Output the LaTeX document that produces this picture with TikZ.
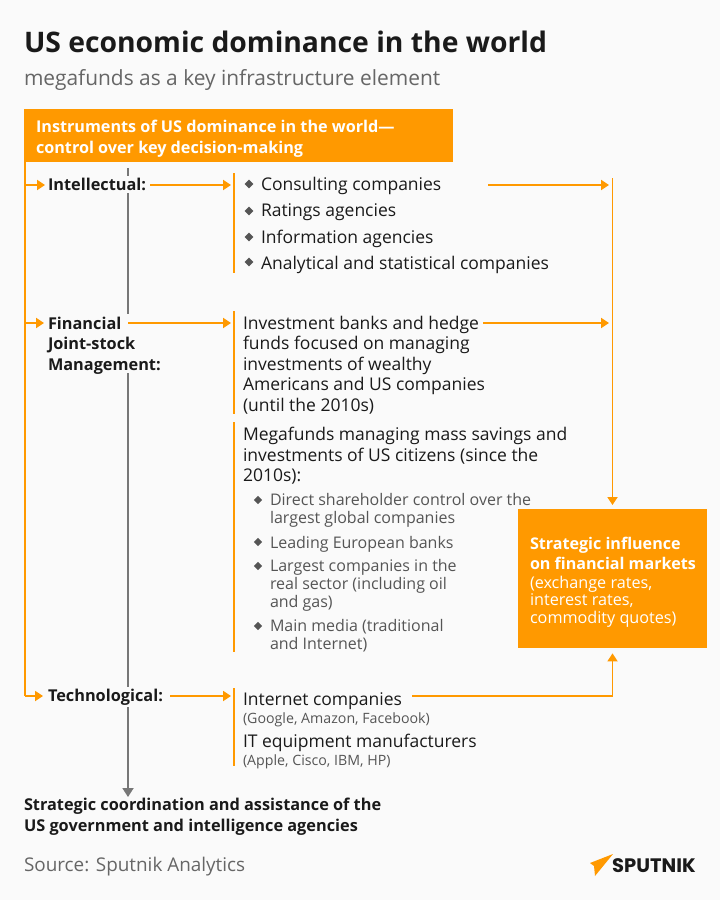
\documentclass[tikz,border=0pt]{standalone}
\usepackage{fontspec}
\setmainfont{Open Sans}
\usetikzlibrary{arrows.meta,shapes.geometric}
\definecolor{org}{HTML}{FF9900}
\definecolor{bg}{HTML}{FAFAFA}
\definecolor{ink}{HTML}{1A1A1A}
\definecolor{sub}{HTML}{666666}
\definecolor{midg}{HTML}{555555}
\definecolor{lineg}{HTML}{777777}
\newcommand{\fs}[2]{\fontsize{#1}{#2}\selectfont}
\tikzset{
 txt/.style={anchor=north west,inner sep=0pt,outer sep=0pt,align=left,text=ink,execute at begin node=\strut},
 lbl/.style={txt,anchor=west},
 oline/.style={draw=org,line width=1.8pt},
 arr/.style={draw=org,line width=1.8pt,-{Triangle[length=8pt,width=10pt]}},
 garr/.style={draw=lineg,line width=1.8pt},
 bar/.style={draw=org,line width=2pt},
 dia/.style={diamond,fill=midg,inner sep=0pt,minimum width=9pt,minimum height=9pt},
 diab/.style={dia,minimum width=8.5pt,minimum height=8.5pt},
 box/.style={fill=org,draw=none,inner sep=0pt,anchor=north west},
 ftitle/.style={font=\bfseries\fs{28.3}{37}},
 fsubt/.style={font=\fs{20.9}{25}},
 ftop/.style={font=\bfseries\fs{16.2}{21}},
 fbold/.style={font=\bfseries\fs{16.3}{20.5}},
 fmain/.style={font=\fs{17.5}{20.5}},
 fsmall/.style={font=\fs{16}{18}},
 ftiny/.style={font=\fs{14.2}{14}},
 frb/.style={font=\bfseries\fs{16.1}{20}},
 frr/.style={font=\fs{16.2}{17.5}},
 fsrc/.style={font=\fs{18.9}{23}},
}
\begin{document}
\begin{tikzpicture}[x=1pt,y=-1pt]
\useasboundingbox[fill=bg] (0,0) rectangle (720,900);
% title
\node[txt,ftitle] (title) at (24,27) {US economic dominance in the world};
\node[txt,text=sub,fsubt] (subtitle) at (24,68) {megafunds as a key infrastructure element};
% boxes
\node[box,minimum width=429pt,minimum height=53pt] (topbox) at (24,109) {};
\node[txt,text=white,ftop] (toptext) at (36,120.5) {Instruments of US dominance in the world—\\control over key decision-making};
\node[box,minimum width=189pt,minimum height=139pt] (rbox) at (518,509) {};
\node[txt,text=white,frb] (rtext) at (530,537) {Strategic influence\\on financial markets};
\node[txt,text=white,frr] (rtextb) at (530,576) {(exchange rates,\\interest rates,\\commodity quotes)};
% left labels
\node[lbl,fbold] (intel) at (48,186) {Intellectual:};
\node[txt,fbold] (fin) at (48,317) {Financial\\Joint-stock\\Management:};
\node[lbl,fbold] (tech) at (48,697) {Technological:};
% list 1
\foreach \n/\y/\t in {a/190/Consulting companies,b/216/Ratings agencies,c/243/Information agencies,d/269/Analytical and statistical companies}{
 \node[txt,fmain] (l\n) at (261,\y-14) {\t};
}
\foreach \n/\y in {a/184,b/211,c/237,d/262}{\node[dia] (da\n) at (249,\y) {};}
% middle texts
\node[txt,fmain] (inv) at (243,316) {Investment banks and hedge\\funds focused on managing\\investments of wealthy\\Americans and US companies\\(until the 2010s)};
\node[txt,fmain] (mega) at (243,427.5) {Megafunds managing mass savings and\\investments of US citizens (since the\\2010s):};
\node[txt,text=midg,fsmall] (s1) at (270,493.5) {Direct shareholder control over the\\largest global companies};
\node[txt,text=midg,fsmall] (s2) at (270,535.5) {Leading European banks};
\node[txt,text=midg,fsmall] (s3) at (270,559.5) {Largest companies in the\\real sector (including oil\\and gas)};
\node[txt,text=midg,fsmall] (s4) at (270,619.5) {Main media (traditional\\and Internet)};
\foreach \n/\y in {a/500,b/542,c/566,d/626}{\node[diab] (db\n) at (258,\y) {};}
\node[txt,fmain] (net) at (243,691) {Internet companies};
\node[txt,text=midg,ftiny] (netb) at (243,713) {(Google, Amazon, Facebook)};
\node[txt,fmain] (it) at (243,733) {IT equipment manufacturers};
\node[txt,text=midg,ftiny] (itb) at (243,755) {(Apple, Cisco, IBM, HP)};
% bottom
\node[txt,fbold] (coord) at (24,798.5) {Strategic coordination and assistance of the\\US government and intelligence agencies};
\node[txt,text=sub,fsrc] (src) at (24,855) {Source: Sputnik Analytics};
% coordinates
\coordinate (lt) at (25,162); \coordinate (lb) at (25,696);
\coordinate (rtop) at (612.5,178);
\coordinate (bar1t) at (233.5,173); \coordinate (bar1b) at (233.5,273);
\coordinate (bar2t) at (233.5,311); \coordinate (bar2b) at (233.5,414);
\coordinate (bar3t) at (233.5,422); \coordinate (bar3b) at (233.5,652);
\coordinate (bar4t) at (233.5,688); \coordinate (bar4b) at (233.5,766);
\coordinate (in1) at (231,185); \coordinate (in2) at (231,323); \coordinate (in3) at (231,696);
\coordinate (gtop) at (128,168); \coordinate (g1) at (128,176); \coordinate (g2) at (128,193);
\coordinate (g3) at (128,314); \coordinate (g4) at (128,373); \coordinate (g5) at (128,687);
\coordinate (g6) at (128,707); \coordinate (gend) at (128,797);
\coordinate (out1) at (488,185); \coordinate (out2) at (483,323); \coordinate (out3) at (412,696);
\coordinate (fout) at (128,323); \coordinate (iout) at (150,185); \coordinate (tout) at (170,696);
\coordinate (rin1) at (609,185); \coordinate (rin2) at (609,323);
% orange left trunk
\draw[oline] (lt) -- (lb);
\draw[arr] (25,185) -- (45,185);
\draw[arr] (25,323) -- (44,323);
\draw[arr] (lb) -- (43,696);
% vertical bars
\draw[bar] (bar1t) -- (bar1b);
\draw[bar] (bar2t) -- (bar2b);
\draw[bar] (bar3t) -- (bar3b);
\draw[bar] (bar4t) -- (bar4b);
% arrows into bars
\draw[arr] (iout) -- (in1);
\draw[arr] (fout) -- (in2);
\draw[arr] (tout) -- (in3);
% right trunk
\draw[arr] (rtop) -- ([yshift=4pt]rbox.north -| rtop);
\draw[arr] (out1) -- (rin1);
\draw[arr] (out2) -- (rin2);
\draw[arr] (out3) -| ([yshift=-5pt]rbox.south -| rtop);
% grey line
\draw[garr,line width=1.2pt] (gtop) -- (g1);
\draw[garr] (g2) -- (g3);
\draw[garr] (g4) -- (g5);
\draw[garr,-{Triangle[length=9pt,width=11pt]}] (g6) -- (gend);
% logo
\fill[org] (590,863) -- (613,854) -- (595,876) -- (594,866) -- cycle;
\node[inner sep=0pt,anchor=west,text=ink,font=\fontspec{Poppins}\bfseries\fs{19.5}{22}] (logo) at (612,865.5) {SPUTNIK};
\end{tikzpicture}
\end{document}
